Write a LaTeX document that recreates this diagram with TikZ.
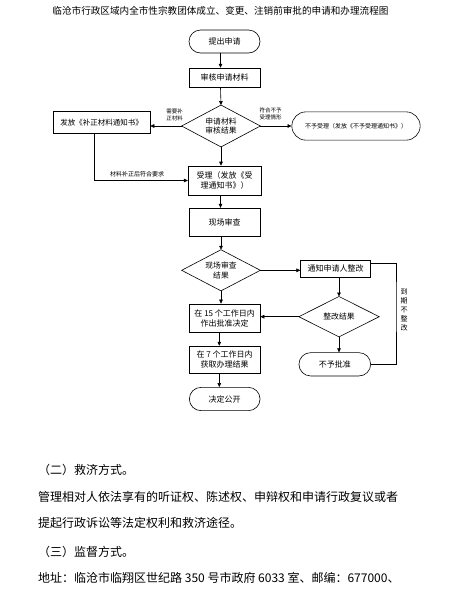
\documentclass[tikz,border=0pt]{standalone}
\usepackage{fontspec}
\setmainfont{Noto Sans CJK SC}
\usetikzlibrary{shapes.misc,arrows.meta,calc}
\newcommand{\fsz}[2]{\fontsize{#1pt}{#2pt}\selectfont}
\begin{document}
\begin{tikzpicture}[x=1pt,y=-1pt,
  ln/.style={line width=0.6pt},
  arr/.style={ln,-{Triangle[length=4pt,width=3.6pt]}},
  box/.style={draw,ln,inner sep=0pt,align=center,font=\fsz{8}{10}},
  pill/.style={draw,ln,rounded rectangle,inner sep=0pt,align=center,font=\fsz{8}{10}},
  dia/.style={inner sep=0pt,align=center,font=\fsz{7.8}{9.5}},
  lab/.style={inner sep=0pt,align=center,font=\fsz{5.5}{7}},
  body/.style={anchor=west,inner sep=0pt,font=\fsz{12}{14}}]
\useasboundingbox (0,0) rectangle (457,600);
\fill[white] (0,0) rectangle (457,600);

\node[inner sep=0pt,font=\fsz{9.6}{11}] (title) at (220.5,11) {临沧市行政区域内全市性宗教团体成立、变更、注销前审批的申请和办理流程图};

\coordinate (col) at (220.5,0);

\node[pill,minimum width=71pt,minimum height=23pt] (start) at (224.5,41.5) {提出申请};
\node[box,minimum width=71pt,minimum height=19.5pt] (check) at (224.5,77.8) {审核申请材料};
\node[dia,minimum width=78.3pt,minimum height=41.5pt] (d1) at (221,126) {申请材料\\审核结果};
\draw[ln] (d1.north) -- (d1.east) -- (d1.south) -- (d1.west) -- cycle;
\node[box,minimum width=97pt,minimum height=21.5pt,font=\fsz{7.5}{9}] (fix) at (101.5,122.5) {发放《补正材料通知书》};
\node[pill,minimum width=128.3pt,minimum height=28.3pt,font=\fsz{6}{7}] (reject) at (356,126) {不予受理（发放《不予受理通知书》）};
\node[box,minimum width=72.7pt,minimum height=29pt] (accept) at (224.5,180.5) {受理（发放《受\\理通知书》）};
\node[box,minimum width=70.7pt,minimum height=27.7pt] (survey) at (224.7,222) {现场审查};
\node[dia,minimum width=78.3pt,minimum height=40.7pt] (d2) at (221,270.3) {现场审查\\结果};
\draw[ln] (d2.north) -- (d2.east) -- (d2.south) -- (d2.west) -- cycle;
\node[box,minimum width=70pt,minimum height=17.3pt] (notify) at (335.7,268.7) {通知申请人整改};
\node[dia,minimum width=80pt,minimum height=40pt] (d3) at (339,316.7) {整改结果};
\draw[ln] (d3.north) -- (d3.east) -- (d3.south) -- (d3.west) -- cycle;
\node[box,minimum width=70.7pt,minimum height=28.7pt] (b15) at (224.7,318.3) {在 15 个工作日内\\作出批准决定};
\node[box,minimum width=70.7pt,minimum height=27.3pt] (b7) at (224.7,359.7) {在 7 个工作日内\\获取办理结果};
\node[pill,minimum width=71.7pt,minimum height=23.3pt] (noapp) at (334.8,364.3) {不予批准};
\node[pill,minimum width=70.7pt,minimum height=23.3pt] (pub) at (224.7,399) {决定公开};

% labels
\node[lab] (l1) at (174.5,115) {需要补\\正材料};
\node[lab] (l2) at (270.5,114) {符合不予\\受理情形};
\node[lab,font=\fsz{6}{7}] (l3) at (137,174) {材料补正后符合要求};
\node[lab,font=\fsz{7}{8.8}] (l4) at (404,310) {到\\期\\不\\整\\改};

% connectors
\draw[arr] (start.south -| col) -- (check.north -| col);
\draw[arr] (check.south -| col) -- (d1.north);
\draw[arr] (d1.west) -- (d1.west -| fix.east);
\draw[arr] (d1.east) -- (d1.east -| reject.west);
\draw[arr] (d1.south) -- (d1.south |- accept.north);
\draw[arr] ($(fix.south)+(-7.5,0)$) |- (accept.west);
\draw[arr] (accept.south -| col) -- (survey.north -| col);
\draw[arr] (survey.south -| d2.north) -- (d2.north);
\draw[arr] (d2.east) -- (d2.east -| notify.west);
\draw[arr] (d2.south) -- (d2.south |- b15.north);
\draw[arr] (notify.south -| d3.north) -- (d3.north);
\draw[arr] (d3.west) -- (d3.west -| b15.east);
\draw[arr] (d3.south) -- (d3.south |- noapp.north);
\coordinate (lp) at (396,300);
\draw[ln] ($(notify.east)+(0,-5.4)$) -| (lp) |- (noapp.east);
\draw[arr] (b15.south -| 219.3,0) -- (b7.north -| 219.3,0);
\draw[arr] (b7.south -| 219.3,0) -- (pub.north -| 219.3,0);

% body text
\node[body] (t1) at (38,470) {（二）救济方式。};
\node[body] (t2) at (38,496.7) {管理相对人依法享有的听证权、陈述权、申辩权和申请行政复议或者};
\node[body] (t3) at (38,523.3) {提起行政诉讼等法定权利和救济途径。};
\node[body] (t4) at (38,551.7) {（三）监督方式。};
\node[body] (t5) at (38,578.3) {地址：临沧市临翔区世纪路 350 号市政府 6033 室、邮编：677000、};
\end{tikzpicture}
\end{document}
